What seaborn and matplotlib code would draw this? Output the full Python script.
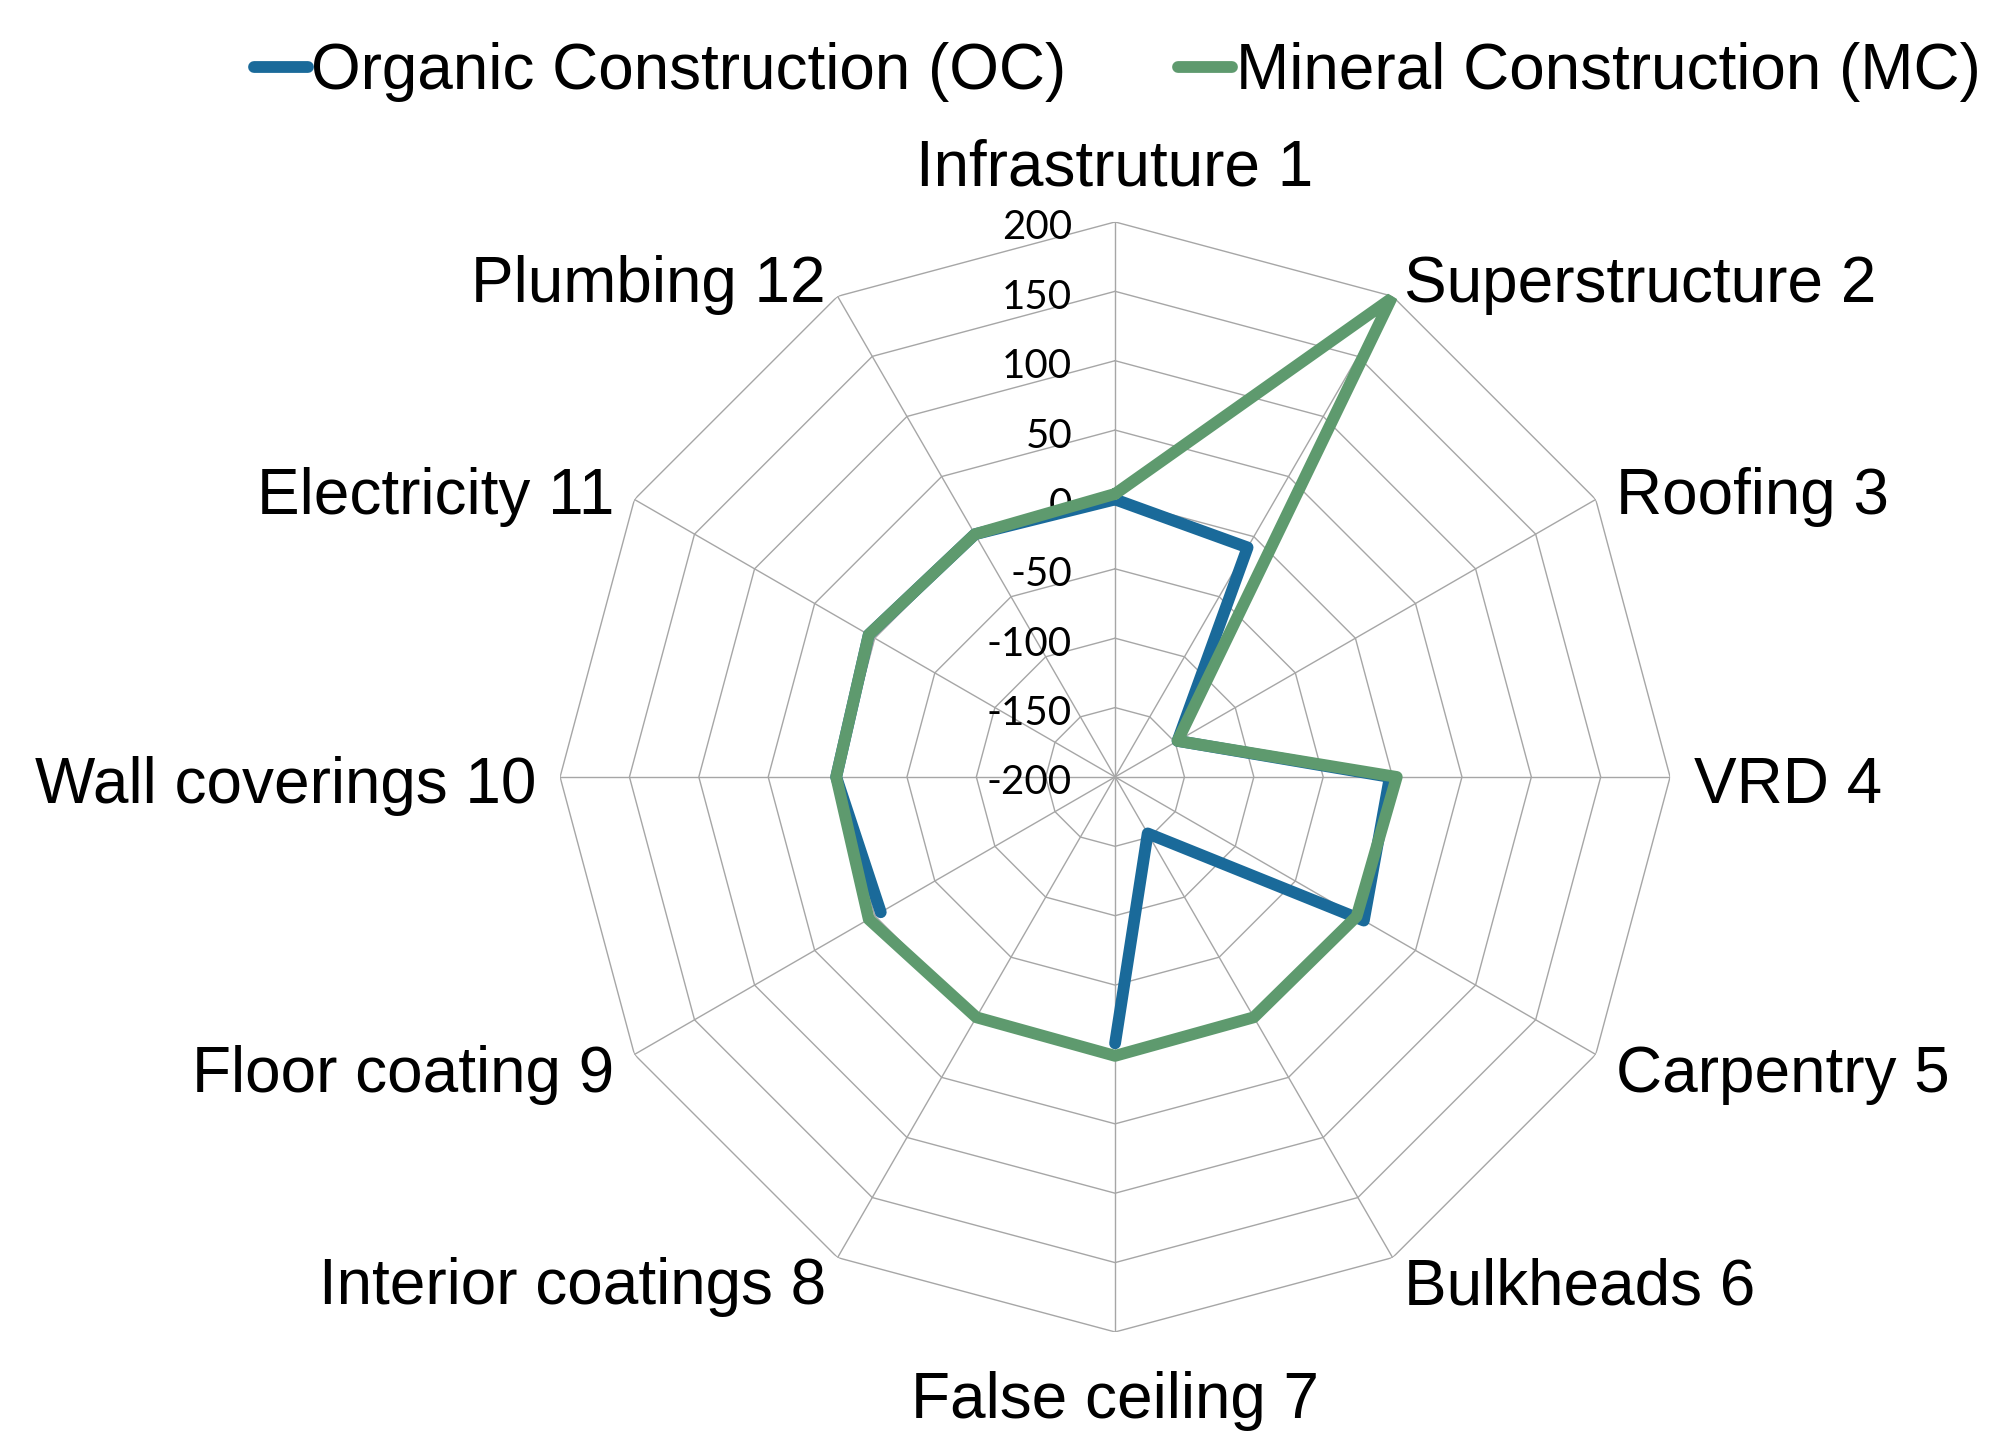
import numpy as np
import pandas as pd
import matplotlib
matplotlib.use("Agg")
import matplotlib.pyplot as plt
from matplotlib.lines import Line2D
from matplotlib.transforms import offset_copy
import seaborn as sns

categories = ["Infrastruture 1", "Superstructure 2", "Roofing 3", "VRD 4", "Carpentry 5",
              "Bulkheads 6", "False ceiling 7", "Interior coatings 8", "Floor coating 9",
              "Wall coverings 10", "Electricity 11", "Plumbing 12"]
oc_values = [0, -9, -148, -2, 7, -153, -8, np.nan, -5, 1, 5, 2]
mc_values = [4, 198, -148, 3, 1, 0, 1, 0, 5, 1, 5, 2]
r_ticks = [-200, -150, -100, -50, 0, 50, 100, 150, 200]
series_names = ["Organic Construction (OC)", "Mineral Construction (MC)"]
colors = ["#1a6a9a", "#5e9a6e"]

sns.set_theme(style="white")
plt.rcParams["font.family"] = ["Liberation Sans", "DejaVu Sans"]
plt.rcParams["text.color"] = "black"

n = len(categories)
angles = np.linspace(0, 2 * np.pi, n, endpoint=False)


def closed_frame(vals, name):
    # close the loop and split where a value is missing (gap in the line)
    df = pd.DataFrame({"theta": np.append(angles, 2 * np.pi),
                       "value": np.append(vals, vals[0])})
    df["seg"] = df["value"].isna().cumsum()
    df["series"] = name
    return df.dropna()


fig = plt.figure(figsize=(19.93, 14.31), dpi=100)
ax = fig.add_axes([0.281, 0.0692, 0.557, 0.7757], projection="polar")
ax.set_theta_zero_location("N")
ax.set_theta_direction(-1)

# polygon grid instead of circles
ring_theta = np.append(angles, 2 * np.pi)
for r in r_ticks[1:]:
    ax.plot(ring_theta, [r] * (n + 1), color="#a6a6a6", lw=1.0, zorder=1)
for a in angles:
    ax.plot([a, a], [r_ticks[0], r_ticks[-1]], color="#a6a6a6", lw=1.0, zorder=1)

for vals, name, c in zip([oc_values, mc_values], series_names, colors):
    sns.lineplot(data=closed_frame(vals, name), x="theta", y="value", units="seg",
                 estimator=None, sort=False, color=c, linewidth=8.5, ax=ax, zorder=3,
                 solid_capstyle="round", solid_joinstyle="round")

ax.set_ylim(-200, 200)
ax.grid(False)
ax.spines["polar"].set_visible(False)
ax.set_xticks([])
ax.set_yticks([])
ax.set_xlabel("")
ax.set_ylabel("")

tick_tf = offset_copy(ax.transData, fig=fig, x=-43, y=-6, units="dots")
for r in r_ticks:
    ax.text(0, r, str(r), transform=tick_tf, ha="right", va="center", color="black",
            fontsize=29, family=["Lato", "DejaVu Sans"], zorder=2)

side_tf = offset_copy(ax.transData, fig=fig, x=0, y=-9, units="dots")
bottom_tf = offset_copy(ax.transData, fig=fig, x=0, y=-15, units="dots")
for a, lab in zip(angles, categories):
    deg = round(np.degrees(a)) % 360
    tf = side_tf
    if deg == 0:
        ha, va, tf = "center", "bottom", ax.transData
    elif deg == 180:
        ha, va, tf = "center", "top", bottom_tf
    elif deg < 180:
        ha, va = "left", "center"
    else:
        ha, va = "right", "center"
    ax.text(a, 217, lab, ha=ha, va=va, fontsize=46, color="black",
            transform=tf, clip_on=False)

handles = [Line2D([], [], color=c, lw=8.5, solid_capstyle="round") for c in colors]
fig.legend(handles, series_names, loc="center", bbox_to_anchor=(1117 / 1993, 1 - 72 / 1431),
           ncol=2, frameon=False, fontsize=46, handlelength=0.85, handletextpad=0.05,
           columnspacing=1.75, labelcolor="black")

fig.savefig("out.png", dpi=100)
